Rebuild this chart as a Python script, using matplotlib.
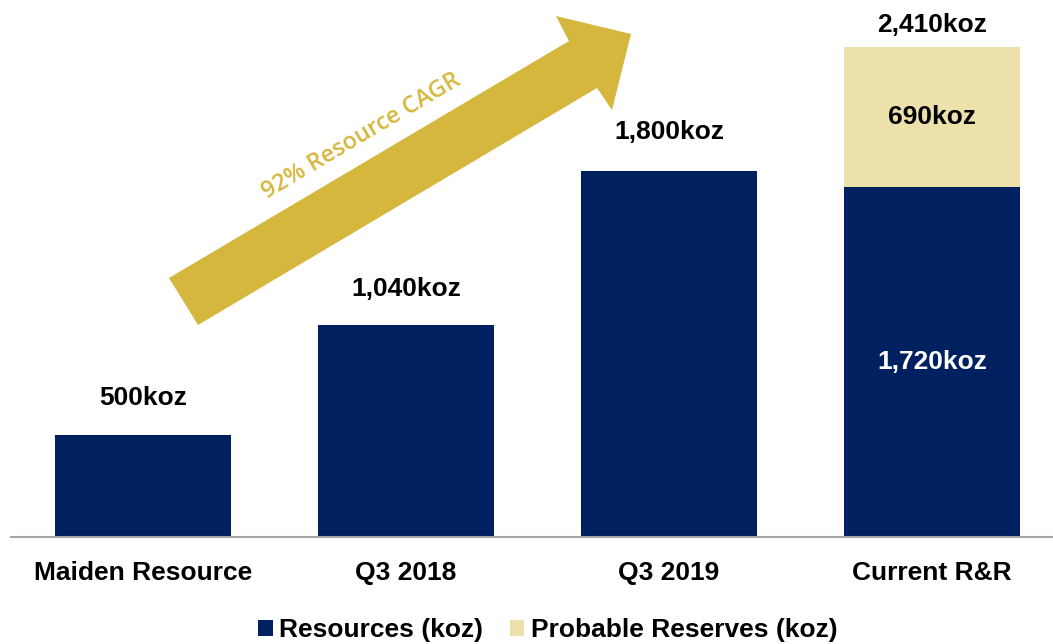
import matplotlib.pyplot as plt
from matplotlib.patches import Polygon

categories = ["Maiden Resource", "Q3 2018", "Q3 2019", "Current R&R"]
resources = [500, 1040, 1800, 1720]
reserves = [0, 0, 0, 690]
totals = ["500koz", "1,040koz", "1,800koz", "2,410koz"]
resource_labels = ["", "", "", "1,720koz"]
reserve_labels = ["", "", "", "690koz"]

navy = "#002060"
cream = "#EDE1AB"
gold = "#D5B73D"

plt.rcParams['font.family'] = ['Liberation Sans', 'DejaVu Sans']

fig = plt.figure(figsize=(10.53, 6.44), dpi=100)
ax = fig.add_axes([11/1053, 107/644, 1042/1053, 537/644])

x = list(range(len(categories)))
b1 = ax.bar(x, resources, width=0.67, color=navy, label="Resources (koz)")
b2 = ax.bar(x, reserves, width=0.67, bottom=resources, color=cream, label="Probable Reserves (koz)")

ax.set_xlim(-0.502, 3.46)
ax.set_ylim(0, 2640)

# total labels above bars
offsets = [27, 26, 28, 16]
for i in x:
    top = resources[i] + reserves[i]
    ax.annotate(totals[i], (i, top), xytext=(0, offsets[i]), textcoords="offset points",
                ha="center", va="center", fontsize=19, fontweight="bold", color="black")
    if resource_labels[i]:
        ax.text(i, resources[i] / 2, resource_labels[i], ha="center", va="center",
                fontsize=19, fontweight="bold", color="white")
    if reserve_labels[i]:
        ax.text(i, resources[i] + reserves[i] / 2, reserve_labels[i], ha="center", va="center",
                fontsize=19, fontweight="bold", color="black")

ax.set_xticks(x)
ax.set_xticklabels(categories, fontsize=19, fontweight="bold")
ax.tick_params(axis="x", length=0, pad=17)
ax.set_yticks([])
for s in ["top", "right", "left"]:
    ax.spines[s].set_visible(False)
ax.spines["bottom"].set_color("#A6A6A6")
ax.spines["bottom"].set_linewidth(1.5)

# CAGR arrow (figure pixel coords, y from top)
pts = [(169, 278), (569, 41), (556, 16), (631, 34), (612, 110), (597, 88), (198, 325)]
poly = Polygon([(px / 1053, 1 - py / 644) for px, py in pts], closed=True,
               transform=fig.transFigure, facecolor=gold, edgecolor="none")
fig.patches.append(poly)
fig.text(361 / 1053, 1 - 136 / 644, "92% Resource CAGR", rotation=30.6, rotation_mode="anchor",
         ha="center", va="center", fontsize=17, color=gold, family=["Open Sans", "DejaVu Sans"],
         fontweight="semibold")

fig.legend(handles=[b1, b2], loc="center", bbox_to_anchor=(548 / 1053, 1 - 630 / 644),
           ncol=2, frameon=False, prop={"size": 19, "weight": "bold"},
           handlelength=0.55, handleheight=0.55, handletextpad=0.25, columnspacing=1.0,
           borderpad=0, borderaxespad=0)

fig.savefig("out.png", dpi=100)
